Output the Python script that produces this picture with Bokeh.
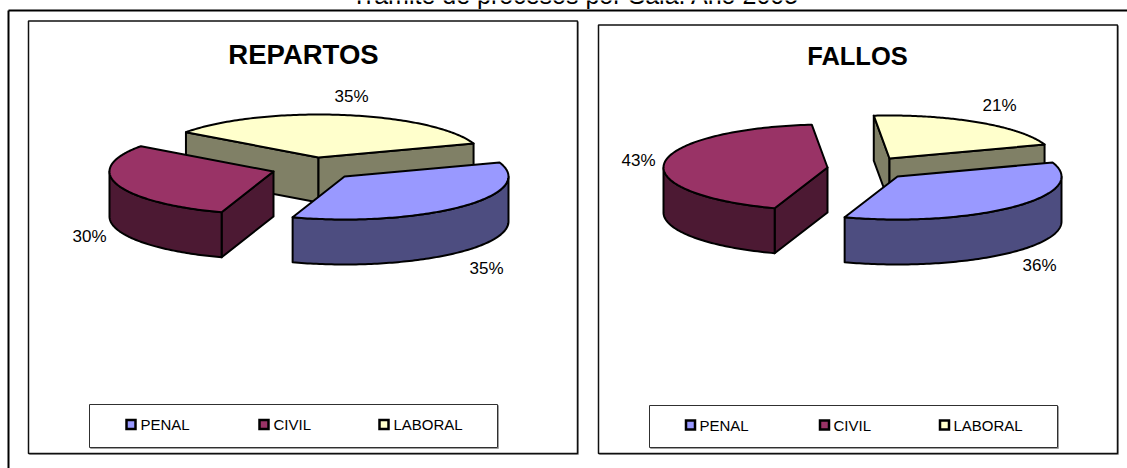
import numpy as np
from bokeh.plotting import figure
from bokeh.models import Range1d
from bokeh.core.properties import value
from bokeh.embed import file_html
from bokeh.resources import INLINE

categories = ["PENAL", "CIVIL", "LABORAL"]
repartos_values = [35.4, 29.9, 34.7]
fallos_values = [35.5, 43.25, 21.25]
chart_titles = ["REPARTOS", "FALLOS"]
page_title = "Trámite de procesos por Sala. Año 2005"

TOP = ["#9999FF", "#993366", "#FFFFCC"]
SIDE = ["#4D4D80", "#4C1933", "#808066"]

# layout constants (pixels)
RX, RY, DEPTH = 164, 43, 45
START = 19.0
FONT = value("Liberation Sans")

p = figure(width=1127, height=468, x_range=Range1d(0, 1127), y_range=Range1d(468, 0),
           output_backend="svg", toolbar_location=None, margin=(0, 0, 0, 0),
           min_border=0, outline_line_color=None, background_fill_color="white",
           border_fill_color="white")
p.axis.visible = False
p.grid.visible = False


def frame(x0, y0, x1, y1, color, w):
    p.quad(left=x0 + 1, right=x1 + 1, top=y0 + 1, bottom=y1 + 1, fill_color=None,
           line_color="#A0A0A0", line_width=1)
    p.quad(left=x0, right=x1, top=y0, bottom=y1, fill_color="white", line_color=color, line_width=w)


def pie(values, centres):
    total = sum(values)
    ang = START
    slices = []
    for i, v in enumerate(values):
        sweep = 360.0 * v / total
        slices.append((i, ang, ang - sweep))
        ang -= sweep
    for i in (2, 1, 0):
        _, a0, a1 = slices[i]
        cx, cy = centres[i]
        t = np.radians(np.linspace(a0, a1, 120))
        ex = cx + RX * np.cos(t)
        ey = cy - RY * np.sin(t)
        # radial walls that face the viewer
        if np.cos(t[0]) < 0:
            px, py = ex[0], ey[0]
            p.patch([cx, px, px, cx], [cy, py, py + DEPTH, cy + DEPTH], fill_color=SIDE[i],
                    line_color="black", line_width=2, line_join="round")
        if np.cos(t[-1]) > 0:
            px, py = ex[-1], ey[-1]
            p.patch([cx, px, px, cx], [cy, py, py + DEPTH, cy + DEPTH], fill_color=SIDE[i],
                    line_color="black", line_width=2, line_join="round")
        # curved wall: the part of the rim facing the viewer
        s = np.sin(t) <= 0
        if s.any():
            wx, wy = ex[s], ey[s]
            p.patch(np.r_[wx, wx[::-1]], np.r_[wy, wy[::-1] + DEPTH], fill_color=SIDE[i],
                    line_color="black", line_width=2, line_join="round")
        # top face
        p.patch(np.r_[cx, ex], np.r_[cy, ey], fill_color=TOP[i], line_color="black",
                line_width=2, line_join="round")


def label(x, y, txt, size, bold=False):
    p.text([x], [y], text=[txt], text_font=FONT, text_font_size=size, text_align="center",
           text_baseline="middle", text_color="black", text_font_style="bold" if bold else "normal")


def legend(x0, x1, y0, y1, swatches, texts):
    frame(x0, y0, x1, y1, "#303030", 1)
    for i, c in enumerate(categories):
        p.rect([swatches[i]], [(y0 + y1) / 2 - 1.5], width=9, height=9, fill_color=TOP[i],
               line_color="black", line_width=2.5, line_join="miter")
        p.text([texts[i]], [(y0 + y1) / 2 - 1.5], text=[c], text_font=FONT, text_font_size="15px",
               text_align="left", text_baseline="middle", text_color="black")


def pct(v):
    return f"{int(v + 0.5)}%"


# outer frame: only its top and left edges are in view
p.segment([8, 8], [10, 10], [8, 1127], [468, 10], line_color="black", line_width=2)
p.text([575], [-6], text=[page_title], text_font=FONT, text_font_size="25px", text_align="center",
       text_baseline="middle", text_color="black")

frame(28, 20.5, 577, 453, "#101010", 1.5)
frame(598, 24.5, 1117, 453, "#101010", 1.5)

label(303, 54, chart_titles[0], "27.5px", True)
label(857, 55, chart_titles[1], "25.5px", True)

pie(repartos_values, [(344, 176), (273, 171), (318, 157)])
pie(fallos_values, [(897, 176), (827, 167), (889, 158)])

for (x, y), v in zip([(486, 268), (89, 236), (351, 96)], repartos_values):
    label(x, y, pct(v), "17px")
for (x, y), v in zip([(1039, 265), (638, 160), (999, 105)], fallos_values):
    label(x, y, pct(v), "17px")

legend(89, 497, 404, 447, [130.5, 263.5, 383.5], [140, 273, 393])
legend(649, 1057, 405, 447, [690, 824, 944], [699, 833, 953])

open("out.html", "w").write(file_html(p, INLINE))
